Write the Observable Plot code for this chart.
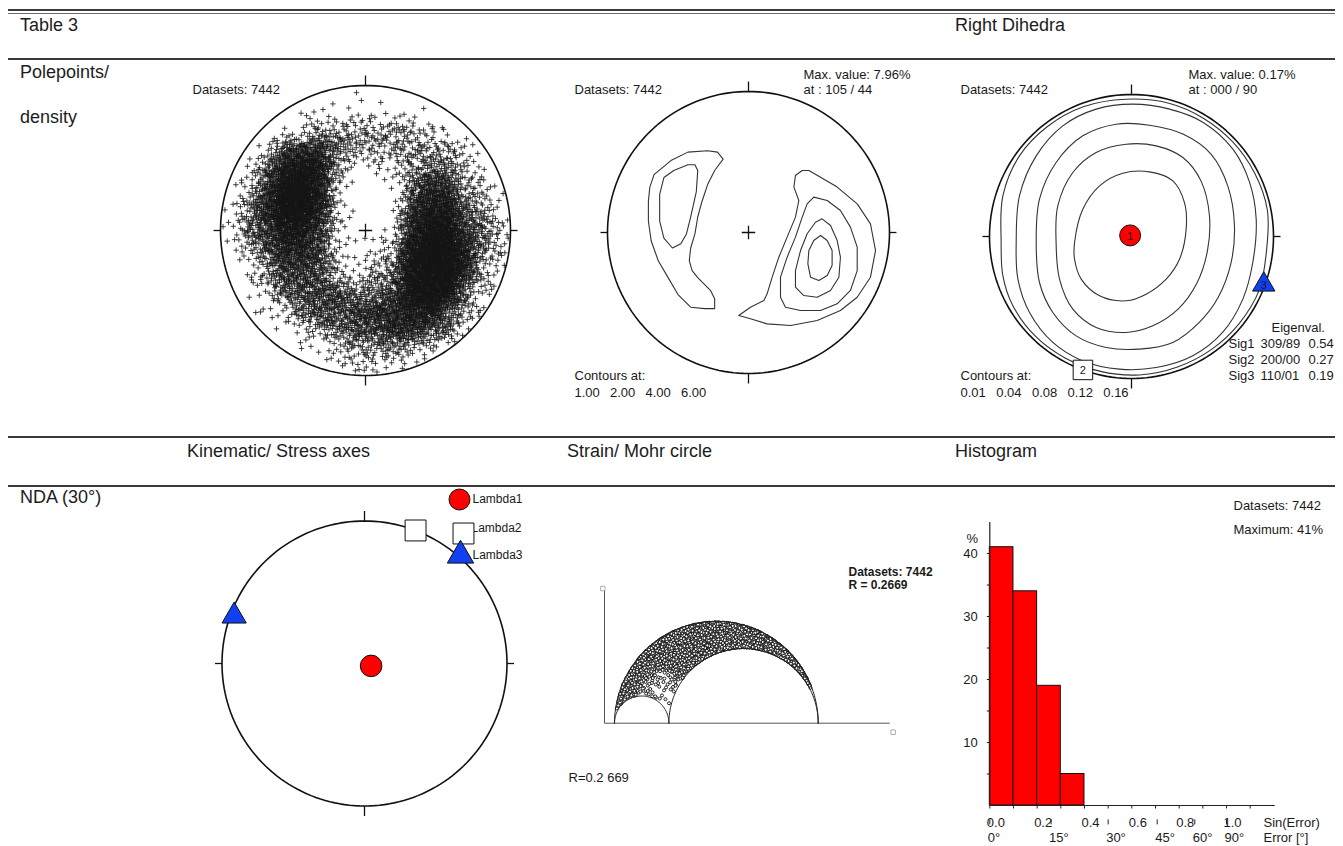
<!DOCTYPE html>
<html>
<head>
<meta charset="utf-8">
<script src="https://cdn.jsdelivr.net/npm/d3@7"></script>
<script src="https://cdn.jsdelivr.net/npm/@observablehq/plot@0.6"></script>
<style>
  html, body { margin: 0; padding: 0; background: #fff; }
  #page { position: relative; width: 1343px; height: 846px; overflow: hidden;
          font-family: "Liberation Sans", Arial, sans-serif; color: #1c1c1c; }
  .rule { position: absolute; left: 8px; width: 1327px; background: #3a3a3a; }
  .head { position: absolute; font-size: 18px; line-height: 1; white-space: nowrap; transform: translateY(-50%); }
  .panel { position: absolute; }
  .panel svg { overflow: visible; }
</style>
</head>
<body>
<div id="page">
  <div class="rule" style="top:9px;height:2px"></div>
  <div class="rule" style="top:13px;height:1px;background:#6a6a6a"></div>
  <div class="rule" style="top:58px;height:2px"></div>
  <div class="rule" style="top:436px;height:2px"></div>
  <div class="rule" style="top:485px;height:2px"></div>
  <div class="head" style="left:20px;top:25px">Table 3</div>
  <div class="head" style="left:955px;top:25px">Right Dihedra</div>
  <div class="head" style="left:20px;top:72px">Polepoints/</div>
  <div class="head" style="left:20px;top:117px">density</div>
  <div class="head" style="left:187px;top:451px">Kinematic/ Stress axes</div>
  <div class="head" style="left:567px;top:451px">Strain/ Mohr circle</div>
  <div class="head" style="left:955px;top:451px">Histogram</div>
  <div class="head" style="left:20px;top:497px">NDA (30°)</div>
</div>
<script>
// ---------------- data ----------------
const datasets = 7442;

// Pole points: relative density (0-9) on a 16 x 16 grid across the net, north row first
const poleDensityRows = [
  "0000000100000000",
  "0000111111110000",
  "0001233333321000",
  "0025664333333210",
  "0147873112344210",
  "1258972001466321",
  "1369972001577431",
  "1468862101688542",
  "1357752112799642",
  "0246652123899732",
  "0135553234899631",
  "0124555445898421",
  "0012455566775310",
  "0001234556654200",
  "0000112334322100",
  "0000001221100000"
];

// Pole density contours (net coordinates: x east, y north)
const densityLevels = [1.00, 2.00, 4.00, 6.00];
const densityMax = { value: 7.96, trend: 105, plunge: 44 };
const westLevel1 = [[-0.18,0.52],[-0.22,0.57],[-0.29,0.58],[-0.43,0.57],[-0.55,0.51],[-0.67,0.41],[-0.70,0.32],[-0.71,0.22],[-0.71,0.08],[-0.69,-0.06],[-0.64,-0.20],[-0.57,-0.32],[-0.50,-0.44],[-0.41,-0.53],[-0.31,-0.54],[-0.24,-0.54],[-0.24,-0.47],[-0.27,-0.41],[-0.36,-0.32],[-0.40,-0.27],[-0.42,-0.20],[-0.41,-0.11],[-0.38,-0.01],[-0.36,0.11],[-0.33,0.22],[-0.29,0.34],[-0.24,0.44]];
const westLevel2 = [[-0.38,0.48],[-0.36,0.44],[-0.37,0.29],[-0.41,0.11],[-0.44,-0.01],[-0.48,-0.08],[-0.54,-0.11],[-0.60,-0.04],[-0.63,0.08],[-0.63,0.27],[-0.60,0.39],[-0.53,0.44],[-0.43,0.48]];
const eastLevel1 = [[0.381,0.44],[0.333,0.404],[0.322,0.322],[0.357,0.227],[0.333,0.109],[0.274,-0.033],[0.215,-0.175],[0.168,-0.317],[0.132,-0.435],[0.109,-0.482],[0.014,-0.53],[-0.069,-0.589],[0.014,-0.612],[0.132,-0.648],[0.298,-0.66],[0.487,-0.624],[0.652,-0.553],[0.771,-0.459],[0.865,-0.317],[0.901,-0.128],[0.865,0.061],[0.771,0.203],[0.629,0.322],[0.511,0.392],[0.428,0.44]];
const eastLevel2 = [[0.463,0.251],[0.558,0.227],[0.652,0.156],[0.723,0.038],[0.771,-0.104],[0.771,-0.27],[0.723,-0.411],[0.629,-0.506],[0.511,-0.553],[0.369,-0.553],[0.262,-0.53],[0.227,-0.459],[0.227,-0.317],[0.274,-0.175],[0.333,-0.033],[0.381,0.109],[0.416,0.203]];
const eastLevel4 = [[0.522,0.097],[0.582,0.05],[0.629,-0.057],[0.652,-0.175],[0.641,-0.317],[0.582,-0.411],[0.487,-0.459],[0.392,-0.447],[0.333,-0.388],[0.333,-0.27],[0.369,-0.128],[0.416,-0.009],[0.475,0.073]];
const eastLevel6 = [[0.511,-0.021],[0.558,-0.057],[0.593,-0.128],[0.593,-0.234],[0.558,-0.305],[0.499,-0.34],[0.44,-0.317],[0.421,-0.222],[0.428,-0.128],[0.463,-0.057]];

// Right dihedra contours and principal axes
const dihedraLevels = [0.01, 0.04, 0.08, 0.12, 0.16];
const dihedraMax = { value: 0.17, trend: 0, plunge: 90 };
const dihedra001 = [[-0.918,-0.042],[-0.906,0.286],[-0.789,0.568],[-0.594,0.773],[-0.34,0.914],[-0.038,0.967],[0.263,0.939],[0.503,0.835],[0.713,0.666],[0.867,0.447],[0.957,0.185],[0.95,-0.108],[0.899,-0.378],[0.758,-0.613],[0.564,-0.795],[0.324,-0.919],[0.055,-0.975],[-0.218,-0.95],[-0.468,-0.855],[-0.677,-0.702],[-0.836,-0.486],[-0.906,-0.275]];
const dihedra004 = [[-0.812,-0.042],[-0.789,0.286],[-0.671,0.568],[-0.484,0.779],[-0.249,0.897],[0.009,0.932],[0.268,0.897],[0.502,0.805],[0.714,0.615],[0.831,0.383],[0.878,0.124],[0.854,-0.183],[0.784,-0.441],[0.643,-0.674],[0.432,-0.84],[0.174,-0.923],[-0.085,-0.934],[-0.343,-0.876],[-0.554,-0.746],[-0.718,-0.535],[-0.8,-0.3]];
const dihedra008 = [[-0.671,-0.042],[-0.648,0.263],[-0.531,0.521],[-0.343,0.709],[-0.108,0.791],[0.127,0.784],[0.362,0.721],[0.56,0.58],[0.68,0.35],[0.725,0.075],[0.7,-0.19],[0.61,-0.43],[0.479,-0.603],[0.291,-0.746],[0.056,-0.793],[-0.178,-0.782],[-0.39,-0.7],[-0.554,-0.535],[-0.648,-0.324]];
const dihedra012 = [[-0.531,-0.042],[-0.519,0.216],[-0.413,0.451],[-0.249,0.592],[-0.038,0.65],[0.174,0.638],[0.362,0.556],[0.49,0.39],[0.549,0.146],[0.535,-0.1],[0.46,-0.33],[0.33,-0.51],[0.15,-0.629],[-0.038,-0.676],[-0.249,-0.641],[-0.413,-0.512],[-0.507,-0.3]];
const dihedra016 = [[-0.401,-0.042],[-0.343,0.192],[-0.225,0.357],[-0.061,0.446],[0.127,0.455],[0.291,0.392],[0.373,0.239],[0.385,0.052],[0.338,-0.16],[0.244,-0.3],[0.103,-0.406],[-0.038,-0.453],[-0.225,-0.418],[-0.354,-0.3],[-0.401,-0.16]];
const sigmaNames = ["Sig1", "Sig2", "Sig3"];
const sigmaTrend = [309, 200, 110];
const sigmaPlunge = [89, 0, 1];
const sigmaEigen = [0.54, 0.27, 0.19];

// NDA kinematic axes (trend / plunge)
const lambdaNames = ["Lambda1", "Lambda2", "Lambda3"];
const lambdaTrend = [110, 21, 290];
const lambdaPlunge = [86, 0, 3];

// Mohr circle: stress ratio and relative point density (5 rows x 10 cols, tau from top)
const stressRatio = 0.2669;
const mohrDensityRows = [
  "9999999999",
  "6799999999",
  "6324999999",
  "5213999999",
  "4213999999"
];

// Misfit histogram
const errEdges = [0.0, 0.1, 0.2, 0.3, 0.4];
const errPercent = [41, 34, 19, 5];
const sinTicks = [0.0, 0.2, 0.4, 0.6, 0.8, 1.0];
const degTicks = [0, 15, 30, 45, 60, 90];
const pctTicks = [10, 20, 30, 40];

// ---------------- helpers ----------------
const page = document.getElementById("page");
const rad = Math.PI / 180;
const ink = "#1a1a1a";
const baseStyle = { background: "none", overflow: "visible", fontFamily: '"Liberation Sans", Arial, sans-serif', fontSize: "13px", color: ink };

// Lambert (Schmidt) equal-area, lower hemisphere
function project(trend, plunge) {
  const r = Math.SQRT2 * Math.sin((90 - plunge) * rad / 2);
  return [r * Math.sin(trend * rad), r * Math.cos(trend * rad)];
}
const pad = (v, n) => String(v).padStart(n, "0");

function mount(svg, box) {
  const d = document.createElement("div");
  d.className = "panel";
  d.style.left = box.left + "px";
  d.style.top = box.top + "px";
  d.style.width = box.width + "px";
  d.style.height = box.height + "px";
  d.appendChild(svg);
  page.appendChild(d);
}

function note(box, text, px, py, o = {}) {
  return Plot.text([text], {
    text: d => d, frameAnchor: "top-left", dx: px - box.left, dy: py - box.top,
    textAnchor: "start", lineAnchor: "middle", fontSize: 13, fill: ink, ...o
  });
}

// Halton radical inverse
function halton(i, b) {
  let f = 1, r = 0;
  while (i > 0) { f /= b; r += f * (i % b); i = Math.floor(i / b); }
  return r;
}

// Lay out `total` points whose local density follows a level grid (bilinear between cell centres)
function ditherField(rows, [x0, x1, y0, y1], total, keep, gamma, candidates) {
  const lv = rows.map(r => Array.from(r, Number));
  const nr = lv.length, nc = lv[0].length;
  const cw = (x1 - x0) / nc, ch = (y1 - y0) / nr;
  const level = (x, y) => {
    const fx = Math.max(0, Math.min(nc - 1, (x - x0) / cw - 0.5));
    const fy = Math.max(0, Math.min(nr - 1, (y1 - y) / ch - 0.5));
    const j0 = Math.floor(fx), i0 = Math.floor(fy);
    const j1 = Math.min(nc - 1, j0 + 1), i1 = Math.min(nr - 1, i0 + 1);
    const tx = fx - j0, ty = fy - i0;
    return (lv[i0][j0] * (1 - tx) + lv[i0][j1] * tx) * (1 - ty) + (lv[i1][j0] * (1 - tx) + lv[i1][j1] * tx) * ty;
  };
  const cand = [];
  let sum = 0;
  for (let k = 1; k <= candidates; ++k) {
    const x = x0 + halton(k, 2) * (x1 - x0);
    const y = y0 + halton(k, 3) * (y1 - y0);
    if (!keep(x, y)) continue;
    const w = Math.pow(level(x, y) / 9, gamma);
    sum += w;
    cand.push([x, y, halton(k, 5), w]);
  }
  const f = total / sum;
  return cand.filter(d => d[2] < d[3] * f);
}

const primitive = d3.range(0, 360, 2).map(a => [Math.sin(a * rad), Math.cos(a * rad)]);

function netFrame(box, cross = true) {
  const tv = 10 / box.r, th = 7 / box.r;
  const ticks = [[0, 1, 0, 1 + tv], [0, -1, 0, -1 - tv], [1, 0, 1 + th, 0], [-1, 0, -1 - th, 0]];
  const marks = [
    Plot.line(primitive, { x: d => d[0], y: d => d[1], curve: "linear-closed", stroke: "#111", strokeWidth: 1.6 }),
    Plot.link(ticks, { x1: d => d[0], y1: d => d[1], x2: d => d[2], y2: d => d[3], stroke: "#111", strokeWidth: 1.3 })
  ];
  if (cross) marks.push(Plot.dot([[0, 0]], { x: d => d[0], y: d => d[1], symbol: "plus", r: 4.4, stroke: "#111", strokeWidth: 1.3 }));
  return marks;
}

function netPlot(box, marks) {
  return Plot.plot({
    width: box.width, height: box.height, margin: 0,
    x: { domain: [-1, 1], range: [box.cx - box.left - box.r, box.cx - box.left + box.r], axis: null },
    y: { domain: [-1, 1], range: [box.cy - box.top + box.r, box.cy - box.top - box.r], axis: null },
    style: baseStyle,
    marks
  });
}

// ---------------- pole points ----------------
{
  const box = { left: 180, top: 60, width: 360, height: 345, cx: 365, cy: 230, r: 145 };
  const poles = ditherField(poleDensityRows, [-1, 1, -1, 1], datasets, (x, y) => x * x + y * y <= 0.975, 1.9, 90000);
  mount(netPlot(box, [
    Plot.dot(poles, { x: d => d[0], y: d => d[1], symbol: "plus", r: 1.9, stroke: "#151515", strokeWidth: 0.8 }),
    ...netFrame(box),
    note(box, `Datasets: ${datasets}`, 192, 89)
  ]), box);
}

// ---------------- pole density ----------------
{
  const box = { left: 560, top: 60, width: 370, height: 345, cx: 748, cy: 232, r: 141 };
  const rings = [westLevel1, westLevel2, eastLevel1, eastLevel2, eastLevel4, eastLevel6];
  mount(netPlot(box, [
    ...rings.map(ring => Plot.line(ring, { x: d => d[0], y: d => d[1], curve: "linear-closed", stroke: "#333", strokeWidth: 1.1 })),
    ...netFrame(box),
    note(box, `Datasets: ${datasets}`, 574, 89),
    note(box, `Max. value: ${densityMax.value.toFixed(2)}%`, 803, 74),
    note(box, `at : ${pad(densityMax.trend, 3)} / ${pad(densityMax.plunge, 2)}`, 803, 89),
    note(box, "Contours at:", 574, 375),
    ...densityLevels.map((v, i) => note(box, v.toFixed(2), 574 + i * 35.5, 392))
  ]), box);
}

// ---------------- right dihedra ----------------
{
  const box = { left: 945, top: 60, width: 398, height: 345, cx: 1131, cy: 236, r: 142 };
  const rings = [dihedra001, dihedra004, dihedra008, dihedra012, dihedra016];
  const axes = sigmaNames.map((name, i) => {
    const [x, y] = project(sigmaTrend[i], sigmaPlunge[i]);
    return { name, x, y, label: String(i + 1) };
  });
  mount(netPlot(box, [
    ...rings.map(ring => Plot.line(ring, { x: d => d[0], y: d => d[1], curve: "catmull-rom-closed", stroke: "#333", strokeWidth: 1.1 })),
    ...netFrame(box, false),
    Plot.dot([axes[0]], { x: "x", y: "y", r: 10.5, fill: "#ff0000", stroke: "#111", strokeWidth: 1 }),
    Plot.dot([axes[1]], { x: "x", y: "y", symbol: "square", r: 11, fill: "#fff", stroke: "#111", strokeWidth: 1 }),
    Plot.dot([axes[2]], { x: "x", y: "y", symbol: "triangle", r: 8.3, fill: "#1040f0", stroke: "#111", strokeWidth: 1 }),
    Plot.text(axes, { x: "x", y: "y", text: "label", fontSize: 11, fill: ink, dy: 1 }),
    note(box, `Datasets: ${datasets}`, 960, 89),
    note(box, `Max. value: ${dihedraMax.value.toFixed(2)}%`, 1188, 74),
    note(box, `at : ${pad(dihedraMax.trend, 3)} / ${pad(dihedraMax.plunge, 2)}`, 1188, 89),
    note(box, "Contours at:", 960, 375),
    ...dihedraLevels.map((v, i) => note(box, v.toFixed(2), 960 + i * 35.7, 392)),
    note(box, "Eigenval.", 1271, 327),
    ...sigmaNames.flatMap((name, i) => [
      note(box, name, 1228, 343 + i * 16),
      note(box, `${pad(sigmaTrend[i], 3)}/${pad(sigmaPlunge[i], 2)}`, 1260, 343 + i * 16),
      note(box, sigmaEigen[i].toFixed(2), 1308, 343 + i * 16)
    ])
  ]), box);
}

// ---------------- NDA kinematic axes ----------------
{
  const box = { left: 180, top: 488, width: 380, height: 345, cx: 364, cy: 663, r: 142.5 };
  const axes = lambdaNames.map((name, i) => {
    const [x, y] = project(lambdaTrend[i], lambdaPlunge[i]);
    return { name, x, y };
  });
  const leg = (px, py, o) => Plot.dot([0], { frameAnchor: "top-left", dx: px - box.left, dy: py - box.top, stroke: "#111", strokeWidth: 1, ...o });
  mount(netPlot(box, [
    ...netFrame(box, false),
    Plot.dot([axes[0]], { x: "x", y: "y", r: 10.8, fill: "#ff0000", stroke: "#111", strokeWidth: 1 }),
    Plot.dot([axes[1]], { x: "x", y: "y", symbol: "square", r: 11.8, fill: "#fff", stroke: "#111", strokeWidth: 1 }),
    Plot.dot([axes[2]], { x: "x", y: "y", symbol: "triangle", r: 9, fill: "#1040f0", stroke: "#111", strokeWidth: 1 }),
    note(box, lambdaNames[0], 472, 499, { fontSize: 12 }),
    note(box, lambdaNames[1], 471, 528, { fontSize: 12 }),
    note(box, lambdaNames[2], 472, 555, { fontSize: 12 }),
    leg(459, 499, { r: 10.5, fill: "#ff0000" }),
    leg(463, 533, { symbol: "square", r: 11.8, fill: "#fff" }),
    leg(460, 555, { symbol: "triangle", r: 9.8, fill: "#1040f0" })
  ]), box);
}

// ---------------- Mohr circle ----------------
{
  const box = { left: 560, top: 560, width: 380, height: 240 };
  const unit = 203.7;
  const x0 = 54, y0 = 162.7;
  const c1 = stressRatio / 2, r1 = stressRatio / 2;
  const c2 = (1 + stressRatio) / 2, r2 = (1 - stressRatio) / 2;
  const half = (c, r) => d3.range(0, 181, 2).map(a => [c + r * Math.cos(a * rad), r * Math.sin(a * rad)]);
  const keep = (x, y) => y >= 0.004 && (x - 0.5) ** 2 + y * y <= 0.495 ** 2 &&
    (x - c1) ** 2 + y * y >= (r1 + 0.005) ** 2 && (x - c2) ** 2 + y * y >= (r2 + 0.005) ** 2;
  const pts = ditherField(mohrDensityRows, [0, 1, 0, 0.5], 6800, keep, 2.2, 90000);
  const ax = -10 / unit;
  const bold = { fontFamily: '"Liberation Sans", Arial, sans-serif', fontWeight: "bold", fontSize: 12 };
  mount(Plot.plot({
    width: box.width, height: box.height, margin: 0,
    x: { domain: [0, 1], range: [x0, x0 + unit], axis: null },
    y: { domain: [0, 0.5], range: [y0, y0 - unit / 2], axis: null },
    style: baseStyle,
    marks: [
      Plot.link([[ax, 0, ax, 0.651], [ax, 0, 1.351, 0]], { x1: d => d[0], y1: d => d[1], x2: d => d[2], y2: d => d[3], stroke: "#555", strokeWidth: 1 }),
      Plot.dot([[ax - 0.008, 0.661], [1.368, -0.044]], { x: d => d[0], y: d => d[1], symbol: "square", r: 2.5, fill: "none", stroke: "#999", strokeWidth: 0.8 }),
      Plot.dot(pts, { x: d => d[0], y: d => d[1], r: 1.5, fill: "#fff", stroke: "#0d0d0d", strokeWidth: 0.9 }),
      Plot.line(half(0.5, 0.5), { x: d => d[0], y: d => d[1], stroke: "#222", strokeWidth: 1 }),
      Plot.line(half(c1, r1), { x: d => d[0], y: d => d[1], stroke: "#222", strokeWidth: 1 }),
      Plot.line(half(c2, r2), { x: d => d[0], y: d => d[1], stroke: "#222", strokeWidth: 1 }),
      note(box, `Datasets: ${datasets}`, 848, 572, bold),
      note(box, `R = ${stressRatio}`, 848, 585, bold),
      note(box, `R=${String(stressRatio).slice(0, 3)} ${String(stressRatio).slice(3)}`, 568, 777)
    ]
  }), box);
}

// ---------------- histogram ----------------
{
  const box = { left: 945, top: 490, width: 398, height: 356 };
  const pxX = 236.7, pxY = 6.3;
  const bins = errPercent.map((p, i) => ({ x1: errEdges[i], x2: errEdges[i + 1], p }));
  const minorY = d3.range(5, 41, 5);
  const minorX = d3.range(0, 12).map(i => i / 10);
  const degPos = degTicks.map(d => Math.sin(d * rad));
  mount(Plot.plot({
    width: box.width, height: box.height, margin: 0,
    x: { domain: [0, 1.2], range: [989.3 - box.left, 989.3 - box.left + 1.2 * pxX], axis: null },
    y: { domain: [0, 45], range: [805 - box.top, 805 - box.top - 45 * pxY], axis: null },
    style: baseStyle,
    marks: [
      Plot.rectY(bins, { x1: "x1", x2: "x2", y1: 0, y2: "p", fill: "#ff0000", stroke: "#111", strokeWidth: 1, inset: 0 }),
      Plot.link([[0, 0, 0, 45], [0, 0, 1.204, 0]], { x1: d => d[0], y1: d => d[1], x2: d => d[2], y2: d => d[3], stroke: "#222", strokeWidth: 1.2 }),
      Plot.link(minorY, { x1: 0, x2: -3 / pxX, y1: d => d, y2: d => d, stroke: "#222", strokeWidth: 1 }),
      Plot.link(minorX, { x1: d => d, x2: d => d, y1: 0, y2: -3 / pxY, stroke: "#222", strokeWidth: 1 }),
      Plot.link(degPos, { x1: d => d, x2: d => d, y1: -2.2, y2: -3.0, stroke: "#222", strokeWidth: 1 }),
      Plot.text(pctTicks, { x: 0, y: d => d, text: d => String(d), textAnchor: "end", dx: -12, fontSize: 13, fill: ink }),
      Plot.text(sinTicks, { x: d => d, y: 0, text: d => d.toFixed(1), textAnchor: "start", dx: -3, dy: 17, fontSize: 13, fill: ink }),
      Plot.text(degTicks, { x: d => Math.sin(d * rad), y: 0, text: d => `${d}°`, textAnchor: "start", dx: -2, dy: 32, fontSize: 13, fill: ink }),
      note(box, "%", 966, 538),
      note(box, "Sin(Error)", 1263, 822),
      note(box, "Error [°]", 1263, 837),
      note(box, `Datasets: ${datasets}`, 1233, 505),
      note(box, `Maximum: ${d3.max(errPercent)}%`, 1233, 529)
    ]
  }), box);
}
</script>
</body>
</html>
